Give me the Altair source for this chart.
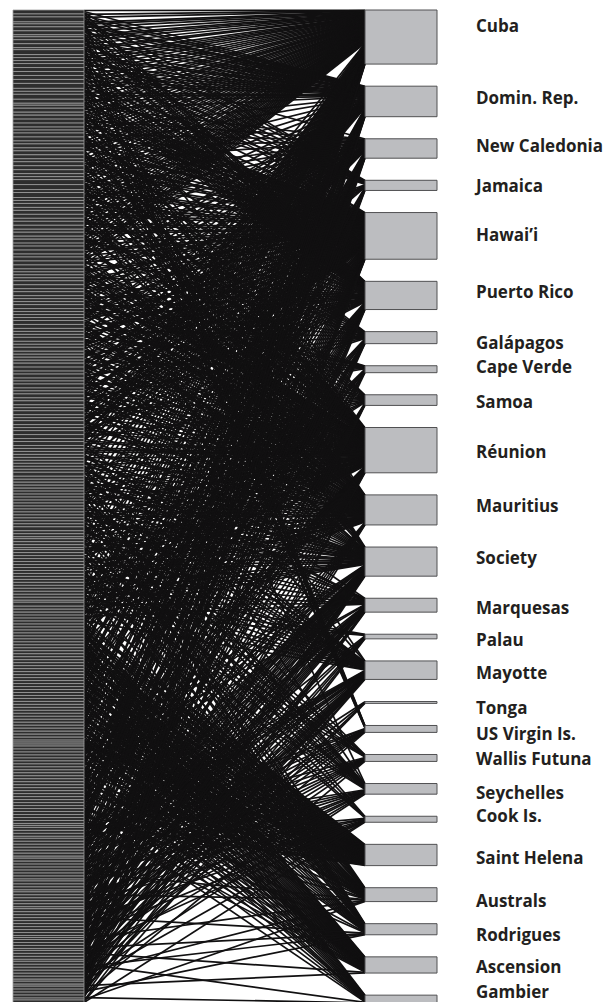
import altair as alt
import pandas as pd

# Islands, top to bottom, with the one-letter code used in the species records
islands = ["Cuba", "Domin. Rep.", "New Caledonia", "Jamaica", "Hawai’i",
           "Puerto Rico", "Galápagos", "Cape Verde", "Samoa", "Réunion",
           "Mauritius", "Society", "Marquesas", "Palau", "Mayotte", "Tonga",
           "US Virgin Is.", "Wallis Futuna", "Seychelles", "Cook Is.",
           "Saint Helena", "Australs", "Rodrigues", "Ascension", "Gambier"]
codes = "ABCDEFGHIJKLMNOPQRSTUVWXY"

# Each species is written as the string of island codes where it occurs,
# listed in the order the species are stacked in the left column.
species_caribbean = [
    "ABDF", "ABF", "ABDFQ", "AB", "ABF", "ABDF", "ABFQ", "AF", "ABE", "ABDF",
    "ABFQ", "AE", "ABDFQ", "ABF", "ABC", "ADF", "ABFJ", "ABDF", "ABEF", "ABFQ",
    "ABFK", "ABDFQ", "AEF", "ABF", "ABDFJ", "ABFL"]
species_widespread = [
    "AE", "ACE", "ABEJ", "AEG", "AEFJ", "ACEI", "AEJK", "ABE", "AEL", "ACGJ",
    "AEFK", "AEI", "ABCE", "AEJ", "AGJK", "AEFL", "ACE", "AEJK", "ABEG", "AEIL",
    "ACJ", "AEF", "AEJKS", "ABCEJ", "AEG", "AEFJK", "ACI", "AEJ", "ABEK", "AEL",
    "ACEG", "AEJK", "AFJ", "ACEJ", "AEIK", "ABE", "AEJL", "ACG", "AEFK", "AEJ",
    "ABCE", "AEKO", "AEG", "ACEJ", "AEFJ", "AIJK"]
species_central = [
    "BEJ", "EJK", "BFJ", "EHJ", "CEJK", "BDFK", "EGJ", "EJKL", "BFH", "CIJ",
    "EJL", "BEFK", "GHJ", "EJK", "BDF", "CEJ", "EIJL", "BFJK", "EGK", "CJK",
    "BEH", "EJKO", "DFJ", "CEL", "BEJK", "GIJ", "EFK", "BCJ", "EHL", "EJKS",
    "BDFJ", "CEK", "EGJL", "BFK", "EIJ", "CHJK", "BEL", "EJK", "ADFJ", "CGK",
    "EJLM", "BFJ", "EIK", "CEJK", "BHJ", "EFL", "AEJK", "BCK", "EGJ", "DFJK",
    "CEIL", "BEJ", "AJKO", "EFJ"]
species_indo_pacific = [
    "AJK", "JKO", "ALM", "JKS", "ELM", "AJO", "KOS", "ILR", "AJKW", "LMV",
    "JOS", "AKL", "EJK", "LMT", "AJW", "KOS", "ILV", "AJK", "JOW", "ELR",
    "AKO", "LMV", "JKS", "AEL", "JOW", "LRT", "AJKO", "IMV", "JKS", "AL",
    "JOW", "ELM", "AKS", "LV", "JKO", "AIR", "JSW", "LMT", "AKO", "ELV",
    "JKW", "ALR", "JOS", "MVT", "AJK", "ILN", "KOW", "AEJ", "LMR", "JOS",
    "ALN", "KW", "ELMV", "AJO", "BLN", "JKS", "AMV", "FKO"]
species_atlantic = [
    "AUX", "BUX", "CVY", "EUX", "FUW", "GUX", "AVY", "HUX", "CUW", "BVX",
    "AUY", "EUX", "DUW", "FVX", "GUY", "AUX", "CVW", "HUX", "BUY", "EVX",
    "AUW", "FUX", "CUY", "GVX", "AUW", "BUX", "EVY", "HUX", "DUW", "AVX",
    "CUY", "FUX", "GVW", "AUX", "BUY", "EUX", "HVW", "AUX", "CUX", "FVY",
    "UX", "UX", "UV", "UXY"]
species_southern = [
    "AJU", "BLX", "EUY", "CMX", "FJU", "ALV", "BUX", "GJY", "EMU", "AJX",
    "CLW", "FUX", "DJU", "BLY", "AEU", "GUX", "HJV", "CLU", "BFX", "AJW",
    "DUY", "EGX", "FHU", "CJV", "ABU", "UX"]
species_oceanic = [
    "AO", "BMQ", "CLR", "EOS", "FL", "GOQ", "ILT", "JMO", "KLS", "DOR",
    "ALN", "BM", "ELQ", "CMS", "FOT", "ILR", "JMV", "KOQ", "ALS", "BT",
    "EOP", "GLR", "HMQ", "IN", "JLV", "KMS", "COR", "FLT", "AMQ", "BS",
    "ELN", "DMR", "IOW", "JLT", "KMQ", "COS", "FLP", "GMR", "AOT", "BS",
    "EV", "IOQ", "JLN", "KOW", "CT", "FLX", "BOR", "ELS", "AN", "DOY",
    "GLW", "HOP", "IMV", "JOQ", "KLS", "BT", "EMN", "AX", "FMP", "JOW",
    "BLR", "CMY", "EV", "NOT"]

species = (species_caribbean + species_widespread + species_central
           + species_indo_pacific + species_atlantic + species_southern
           + species_oceanic)

# ---- layout (bipartite web: species left, islands right) ----
X_LEFT0, X_LEFT1 = 13, 84        # species column
X_RIGHT0, X_RIGHT1 = 365, 437    # island column
X_LABEL = 476
RIGHT_SHARE = 0.466              # island boxes take this share of the height
# small vertical nudges of the island labels (pixels)
label_nudge = [-10, -2, -1, 2, 0, -2, 6, -1, 3, 3, -3, -3, 4, 4, 4, 7, 6, 2,
               5, -2, 4, 7, 7, 3, -6]

links = []
for s, combo in enumerate(species):
    for c in sorted(combo, key=codes.index):
        links.append((s, codes.index(c)))
T = len(links)
n_isl = len(islands)

# species boxes: stacked with no gap
deg = [len(c) for c in species]
sp_start = []
acc = 0
for d in deg:
    sp_start.append(acc)
    acc += d

# island boxes: scaled by RIGHT_SHARE, separated by equal gaps
counts = [0] * n_isl
for _, i in links:
    counts[i] += 1
gap = T * (1 - RIGHT_SHARE) / (n_isl - 1)
is_start = []
acc = 0.0
for c in counts:
    is_start.append(acc)
    acc += c * RIGHT_SHARE + gap

# link end positions
sp_rank = [0] * len(species)
is_rank = [0] * n_isl
left_y = {}
for k, (s, i) in enumerate(links):
    left_y[k] = sp_start[s] + sp_rank[s] + 0.5
    sp_rank[s] += 1
right_y = {}
for k in sorted(range(T), key=lambda k: (links[k][1], links[k][0])):
    s, i = links[k]
    right_y[k] = is_start[i] + RIGHT_SHARE * (is_rank[i] + 0.5)
    is_rank[i] += 1

link_df = pd.DataFrame({
    "xa": X_LEFT1, "xb": X_RIGHT0,
    "ya": [left_y[k] for k in range(T)],
    "yb": [right_y[k] for k in range(T)],
})
sp_df = pd.DataFrame({
    "xa": X_LEFT0, "xb": X_LEFT1,
    "ya": sp_start, "yb": [a + d for a, d in zip(sp_start, deg)],
})
units_per_px = T / 993.0
isl_df = pd.DataFrame({
    "name": islands,
    "xa": X_RIGHT0, "xb": X_RIGHT1, "xl": X_LABEL,
    "ya": is_start,
    "yb": [a + c * RIGHT_SHARE for a, c in zip(is_start, counts)],
    "ylab": [a + c * RIGHT_SHARE / 2 + n * units_per_px
             for a, c, n in zip(is_start, counts, label_nudge)],
})

xs = alt.Scale(domain=[0, 614], range=[0, 614], nice=False, zero=False)
ys = alt.Scale(domain=[0, T], range=[10, 1003], nice=False, zero=False)

link_layer = alt.Chart(link_df).mark_rule(
    color="#111011", strokeWidth=1.7
).encode(
    x=alt.X("xa:Q", scale=xs, axis=None), x2="xb:Q",
    y=alt.Y("ya:Q", scale=ys, axis=None), y2="yb:Q",
)
sp_layer = alt.Chart(sp_df).mark_rect(
    fill="#2e2e2e", stroke="#9c9c9c", strokeWidth=0.8
).encode(
    x=alt.X("xa:Q", scale=xs, axis=None), x2="xb:Q",
    y=alt.Y("ya:Q", scale=ys, axis=None), y2="yb:Q",
)
isl_layer = alt.Chart(isl_df).mark_rect(
    fill="#bcbdc0", stroke="#505052", strokeWidth=1.0
).encode(
    x=alt.X("xa:Q", scale=xs, axis=None), x2="xb:Q",
    y=alt.Y("ya:Q", scale=ys, axis=None), y2="yb:Q",
)
label_layer = alt.Chart(isl_df).mark_text(
    align="left", baseline="middle", font="Open Sans", fontWeight="bold",
    fontSize=17, color="#231f20"
).encode(
    x=alt.X("xl:Q", scale=xs, axis=None),
    y=alt.Y("ylab:Q", scale=ys, axis=None),
    text="name:N",
)

chart = alt.layer(link_layer, sp_layer, isl_layer, label_layer).properties(
    width=614, height=1002, padding=0, autosize="none"
).configure_view(stroke=None)

chart.save("out.html", embed_options={"renderer": "svg", "actions": False})
